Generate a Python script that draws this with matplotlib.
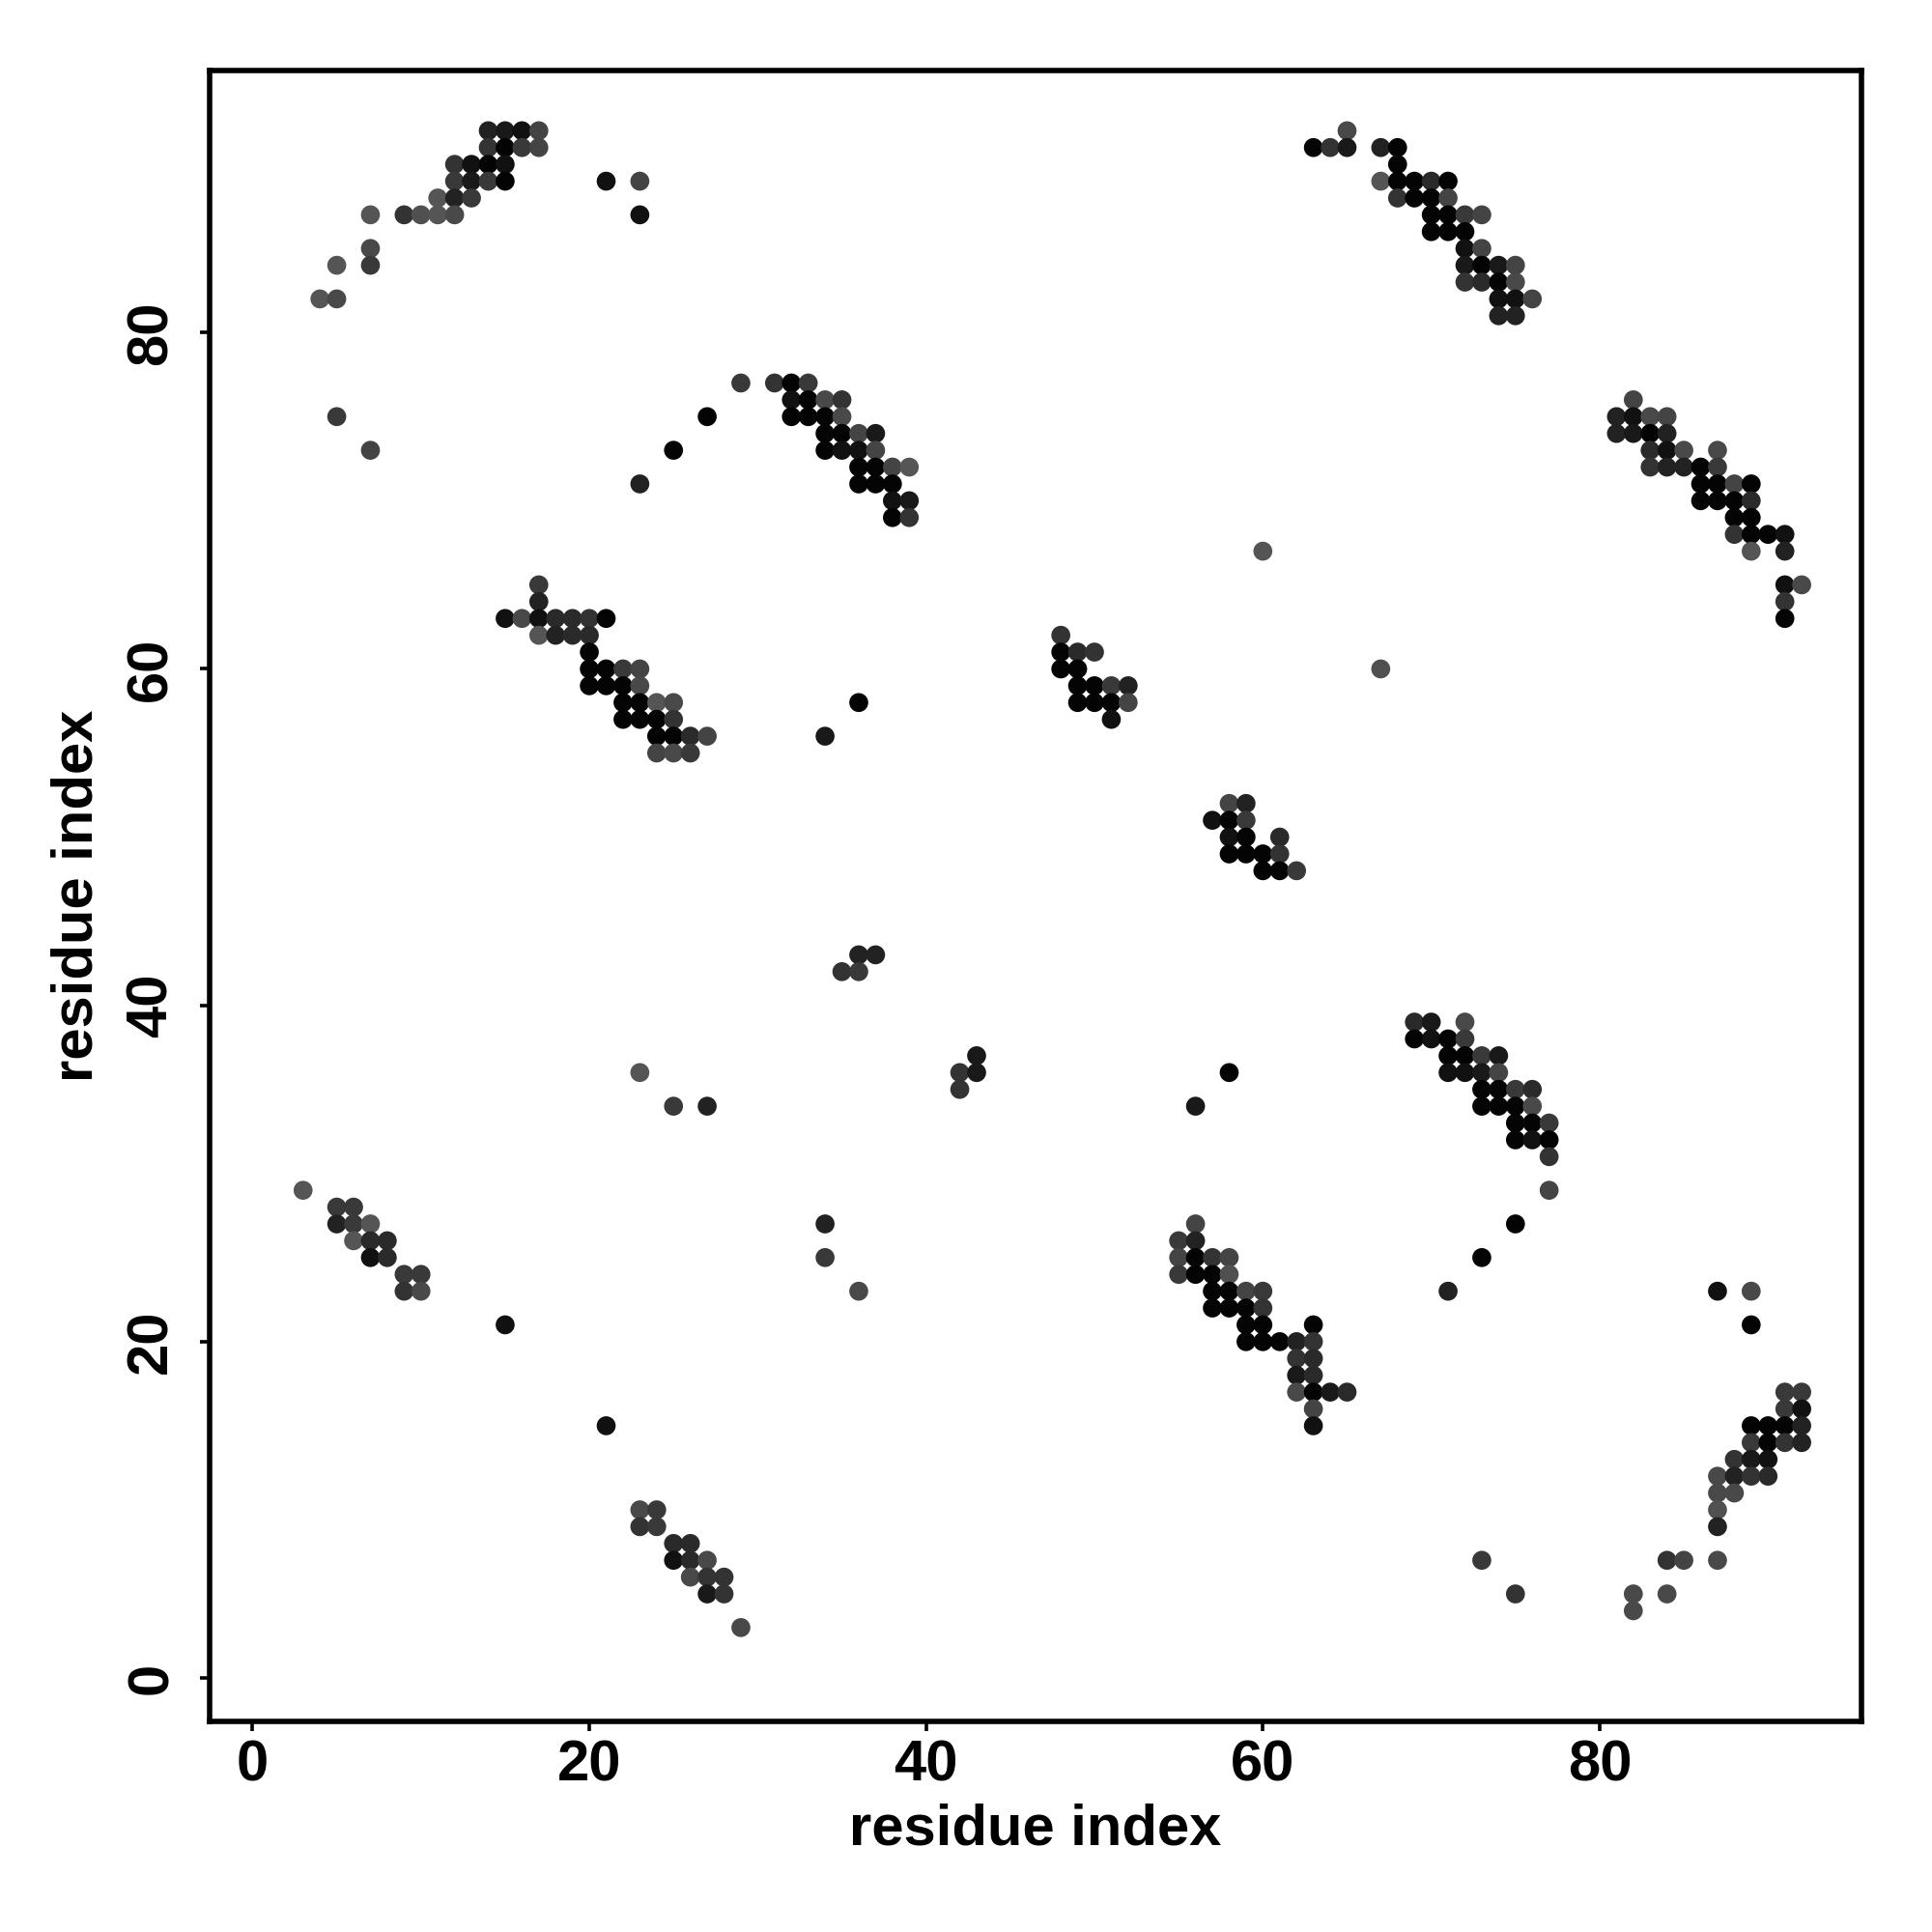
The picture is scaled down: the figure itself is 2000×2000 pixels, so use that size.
import matplotlib
matplotlib.use("Agg")
import matplotlib.pyplot as plt
from matplotlib.colors import Normalize

# contact map: residue i, residue j, contact probability
B, K1, K2, D1, D2, D3, G1, G2, G3, G4, G5 = 0.95, 0.82, 0.73, 0.64, 0.55, 0.46, 0.39, 0.28, 0.22, 0.15, 0.10

res_i = [
    14, 15, 16, 17, 14, 15, 16, 17, 12, 13, 14, 15, 12, 13, 14, 15, 21,
    11, 12, 13, 7, 9, 10, 11, 12, 7, 5, 7, 4, 5, 5, 7,
    23, 23, 29, 31, 32, 33, 32, 33, 34, 35, 27, 32, 33, 34, 35,
    34, 35, 36, 37, 25, 34, 35, 36, 37, 36, 37, 38, 39, 23, 36, 37, 38,
    38, 39, 38, 39,
    17, 17, 15, 16, 17, 18, 19, 20, 21, 17, 18, 19, 20, 20,
    20, 21, 22, 23, 20, 21, 22, 23, 22, 23, 24, 25, 22, 23, 24, 25,
    24, 25, 26, 27, 24, 25, 26,
    48, 48, 49, 50, 48, 49, 49, 50, 51, 52, 49, 50, 51, 52, 51,
    36, 34, 36, 37, 35, 36, 43, 42, 43, 42,
    60, 67, 58, 59, 57, 58, 59, 58, 59, 61, 58, 59, 60, 61, 60, 61, 62,
    65, 63, 64, 65, 67, 68, 68, 67, 68, 69, 70, 71, 68, 69, 70, 71,
    70, 71, 72, 73, 70, 71, 72, 72, 73, 72, 73, 74, 75, 72, 73, 74, 75,
    74, 75, 76, 74, 75,
    82, 81, 82, 83, 84, 81, 82, 83, 84, 83, 84, 85, 87, 83, 84, 85, 86, 87,
    86, 87, 88, 89, 86, 87, 88, 89, 88, 89, 88, 89, 90, 91, 89, 91,
    91, 92, 91, 91,
    69, 70, 72, 69, 70, 71, 72, 71, 72, 73, 74, 71, 72, 73, 74,
    73, 74, 75, 76, 73, 74, 75, 76, 75, 76, 77, 75, 76, 77, 77, 77,
    75, 73, 71, 58, 56,
    56, 55, 56, 55, 56, 57, 58, 55, 56, 57, 58, 57, 58, 59, 60,
    57, 58, 59, 60, 59, 60, 63, 59, 60, 61, 62, 63, 62, 63, 62, 63,
    62, 63, 64, 65, 63, 63,
    87, 89, 89, 91, 92, 91, 92, 89, 90, 91, 92, 89, 90, 91, 92,
    88, 89, 90, 87, 88, 89, 90, 87, 88, 87, 87, 73, 84, 85, 87,
    75, 82, 84, 82,
    23, 25, 27, 3, 5, 6, 5, 6, 7, 6, 7, 8, 7, 8, 9, 10, 9, 10,
    34, 34, 36, 15, 21, 23, 24, 23, 24, 25, 26, 25, 26, 27,
    26, 27, 28, 27, 28, 29,
]

res_j = [
    92, 92, 92, 92, 91, 91, 91, 91, 90, 90, 90, 90, 89, 89, 89, 89, 89,
    88, 88, 88, 87, 87, 87, 87, 87, 85, 84, 84, 82, 82, 75, 73,
    89, 87, 77, 77, 77, 77, 76, 76, 76, 76, 75, 75, 75, 75, 75,
    74, 74, 74, 74, 73, 73, 73, 73, 73, 72, 72, 72, 72, 71, 71, 71, 71,
    70, 70, 69, 69,
    65, 64, 63, 63, 63, 63, 63, 63, 63, 62, 62, 62, 62, 61,
    60, 60, 60, 60, 59, 59, 59, 59, 58, 58, 58, 58, 57, 57, 57, 57,
    56, 56, 56, 56, 55, 55, 55,
    62, 61, 61, 61, 60, 60, 59, 59, 59, 59, 58, 58, 58, 58, 57,
    58, 56, 43, 43, 42, 42, 37, 36, 36, 35,
    67, 60, 52, 52, 51, 51, 51, 50, 50, 50, 49, 49, 49, 49, 48, 48, 48,
    92, 91, 91, 91, 91, 91, 90, 89, 89, 89, 89, 89, 88, 88, 88, 88,
    87, 87, 87, 87, 86, 86, 86, 85, 85, 84, 84, 84, 84, 83, 83, 83, 83,
    82, 82, 82, 81, 81,
    76, 75, 75, 75, 75, 74, 74, 74, 74, 73, 73, 73, 73, 72, 72, 72, 72, 72,
    71, 71, 71, 71, 70, 70, 70, 70, 69, 69, 68, 68, 68, 68, 67, 67,
    65, 65, 64, 63,
    39, 39, 39, 38, 38, 38, 38, 37, 37, 37, 37, 36, 36, 36, 36,
    35, 35, 35, 35, 34, 34, 34, 34, 33, 33, 33, 32, 32, 32, 31, 29,
    27, 25, 23, 36, 34,
    27, 26, 26, 25, 25, 25, 25, 24, 24, 24, 24, 23, 23, 23, 23,
    22, 22, 22, 22, 21, 21, 21, 20, 20, 20, 20, 20, 19, 19, 18, 18,
    17, 17, 17, 17, 16, 15,
    23, 23, 21, 17, 17, 16, 16, 15, 15, 15, 15, 14, 14, 14, 14,
    13, 13, 13, 12, 12, 12, 12, 11, 11, 10, 9, 7, 7, 7, 7,
    5, 5, 5, 4,
    36, 34, 34, 29, 28, 28, 27, 27, 27, 26, 26, 26, 25, 25, 24, 24, 23, 23,
    27, 25, 23, 21, 15, 10, 10, 9, 9, 8, 8, 7, 7, 7,
    6, 6, 6, 5, 5, 3,
]

prob = [
    D1, K2, K1, G2, D3, B, G1, G2, D3, K1, B, K1, G1, K2, G1, B, K1,
    G5, D1, G1, G5, D3, G4, G5, G3, G3, G5, G1, G5, G3, G1, G2,
    G2, K1, G1, D3, B, G1, K1, B, G3, D3, B, B, B, B, G3,
    B, B, G2, K2, B, B, K1, K1, G2, B, B, G2, G5, D1, B, B, B,
    K1, K2, B, D3,
    G1, D1, K1, G3, K1, D2, D2, D3, B, G5, D1, D2, D2, B,
    B, B, G1, G2, B, B, B, G3, B, B, G5, G3, B, B, B, D3,
    B, B, D2, G2, G2, G3, G1,
    D3, B, D2, D3, B, B, B, B, G1, D1, B, B, B, G2, K1,
    B, K2, D1, D1, D3, G1, K2, D3, K2, D3,
    G5, G4, G2, D1, K1, B, G1, K1, B, D2, B, B, B, D3, B, B, G1,
    G3, B, D3, K2, D1, B, B, G5, B, B, D2, B, D3, B, B, G2,
    B, B, G1, G2, B, B, B, K1, G2, K2, B, K2, G2, D3, D2, B, G3,
    K1, K1, G2, D1, D1,
    G2, D1, K1, G3, G2, D1, K2, B, D1, D2, K1, G3, G3, D3, D1, D1, B, G1,
    B, B, G2, B, B, B, B, D2, B, B, D3, B, B, K1, G5, D1,
    K1, G3, D3, B,
    D2, K2, G3, B, K1, B, G1, B, B, G1, K2, K1, K1, K2, G2,
    B, B, G1, D2, B, B, B, G3, B, B, G1, B, K1, B, D3, G2,
    B, B, D1, B, K2,
    G2, G1, D1, G2, B, D3, G2, G1, B, B, G4, B, B, G2, G1,
    B, B, B, D3, B, B, B, B, B, B, D1, D3, D3, D2, K2, D2,
    G3, B, K2, D2, G2, K1,
    K1, G3, B, G1, G1, G1, K1, B, B, B, D1, G1, B, D3, D1,
    D3, K2, K1, G3, D1, D3, D2, G3, G3, G4, D1, G1, D3, G2, G3,
    D3, G3, G3, G3,
    G5, G1, D1, G5, G1, G1, D1, G1, G5, G5, D2, D2, K1, D2, G1, G1, D3, G3,
    D1, G1, G3, K1, K1, G3, G1, D3, G1, D2, D2, K1, D2, G3,
    G3, D3, D3, K2, D3, G3,
]

ticks = [0, 20, 40, 60, 80]
axis_title = "residue index"

plt.rcParams["font.family"] = ["Liberation Sans", "DejaVu Sans"]
plt.rcParams["font.weight"] = "bold"

fig = plt.figure(figsize=(10, 10), dpi=200)
ax = fig.add_axes([0.1085, 0.109, 0.855, 0.8545])

ax.scatter(res_i, res_j, c=prob, cmap="gray_r", norm=Normalize(vmin=-1.7, vmax=1.0),
           s=50, linewidths=0, zorder=3)

ax.set_xlim(-2.55, 95.55)
ax.set_ylim(-2.58, 95.58)
ax.set_xticks(ticks)
ax.set_yticks(ticks)
ax.set_xticklabels([str(t) for t in ticks], fontsize=21.5, fontweight="bold")
ax.set_yticklabels([str(t) for t in ticks], fontsize=21.5, fontweight="bold",
                   rotation=90, va="center")
ax.tick_params(axis="both", length=3.6, width=1.3, color="black", direction="out")
ax.tick_params(axis="x", pad=3)
ax.tick_params(axis="y", pad=8)
for sp in ax.spines.values():
    sp.set_linewidth(2.0)
    sp.set_color("black")

ax.set_xlabel(axis_title, fontsize=21.5, fontweight="bold", labelpad=4)
ax.set_ylabel(axis_title, fontsize=21.5, fontweight="bold", labelpad=8)

fig.savefig("out.png", dpi=200, facecolor="white")
